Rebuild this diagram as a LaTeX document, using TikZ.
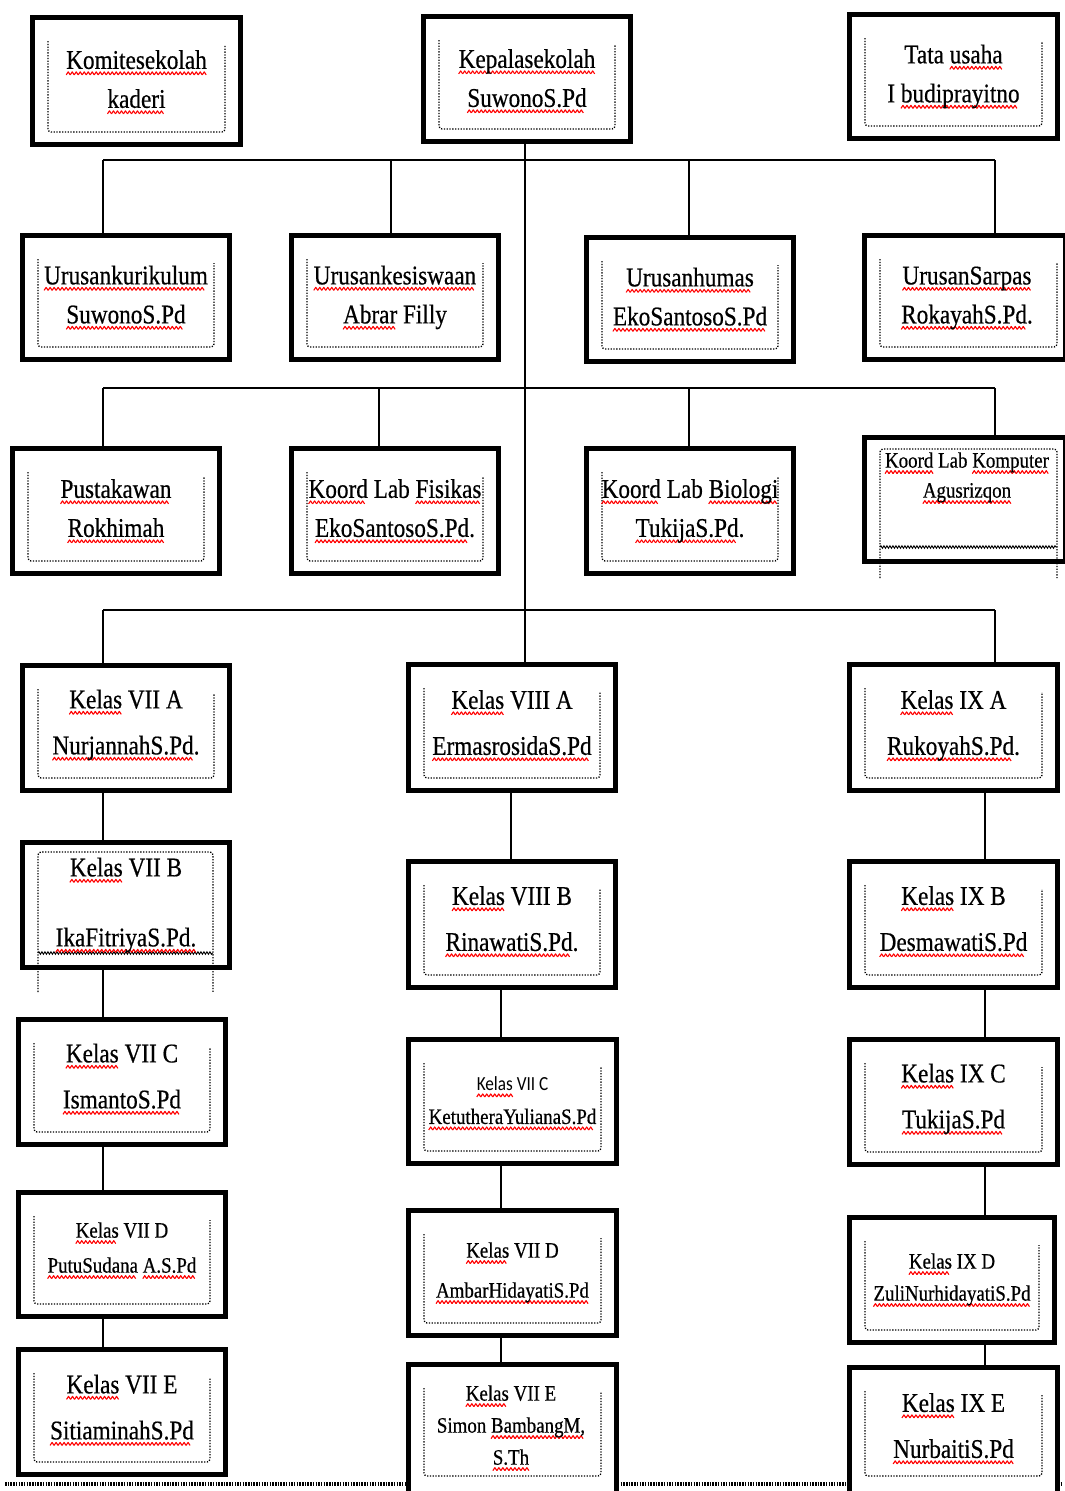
\documentclass[tikz,border=0pt]{standalone}
\usepackage{fontspec}
\setmainfont{Liberation Serif}[FakeStretch=0.86,FakeBold=0.5]
\newfontfamily\smsans{Carlito}[FakeStretch=0.86]
\usetikzlibrary{decorations.pathmorphing,backgrounds}
\newsavebox\wavebox
\sbox\wavebox{\tikz{\useasboundingbox (0,0) rectangle (4pt,3pt); \draw[red,line width=1.1pt,line join=round] (0,0) -- (2pt,3pt) -- (4pt,0);}}
\newcommand\rw[1]{\setbox0\hbox{#1}\rlap{\raisebox{-6pt}{\hbox to \wd0{\leaders\copy\wavebox\hfill}}}#1}
\newcommand\mainf{\fontsize{27}{39}\selectfont}
\newcommand\kelf{\fontsize{27}{46}\selectfont}
\tikzset{
  obox/.style={draw, line width=5.5pt, fill=white, inner sep=0pt},
  conn/.style={line width=1.8pt},
  dotl/.style={line width=1.3pt, dash pattern=on 1.3pt off 1.5pt, rounded corners=3pt},
  bwave/.style={line width=0.9pt, decorate, decoration={snake, segment length=3pt, amplitude=1.3pt}},
  txt/.style={align=center, inner sep=0pt},
}
% name, x1, y1, x2, y2
\newcommand\ob[5]{%
  \node[obox, minimum width={(#4)-(#2)-5}, minimum height={(#5)-(#3)-5}] (#1) at ({((#2)+(#4))/2},{((#3)+(#5))/2}) {};
}
\newcommand\inr[4]{%
  \draw[dotl] ({(#1)+18},{(#2)+26}) -- ({(#1)+18},{(#4)-15}) -- ({(#3)-18},{(#4)-15}) -- ({(#3)-18},{(#2)+30});
}
\begin{document}
\begin{tikzpicture}[x=1pt,y=-1pt]
\useasboundingbox (0,0) rectangle (1065,1491);

% ---- boxes
\ob{komite}{30}{15}{243}{147}   \inr{30}{15}{243}{147}
\ob{kepala}{421}{14}{633}{144}  \inr{421}{14}{633}{144}
\ob{tata}{847}{12}{1060}{141}   \inr{847}{12}{1060}{141}
\ob{kur}{20}{233}{232}{362}     \inr{20}{233}{232}{362}
\ob{kes}{289}{233}{501}{362}    \inr{289}{233}{501}{362}
\ob{hum}{584}{235}{796}{364}    \inr{584}{235}{796}{364}
\ob{sar}{862}{233}{1068}{362}   \inr{862}{233}{1075}{362}
\ob{pus}{10}{446}{222}{576}     \inr{10}{446}{222}{576}
\ob{fis}{289}{446}{501}{576}    \inr{289}{446}{501}{576}
\ob{bio}{584}{446}{796}{576}    \inr{584}{446}{796}{576}
\ob{kom}{862}{435}{1068}{564}
\ob{asev}{20}{663}{232}{793}    \inr{20}{663}{232}{793}
\ob{bsev}{20}{840}{232}{970}
\ob{csev}{16}{1017}{228}{1147}  \inr{16}{1017}{228}{1147}
\ob{dsev}{16}{1190}{228}{1319}  \inr{16}{1190}{228}{1319}
\ob{esev}{16}{1347}{228}{1477}  \inr{16}{1347}{228}{1477}
\ob{aeig}{406}{662}{618}{793}   \inr{406}{662}{618}{793}
\ob{beig}{406}{859}{618}{990}   \inr{406}{859}{618}{990}
\ob{ceig}{406}{1037}{619}{1166} \inr{406}{1037}{619}{1166}
\ob{deig}{406}{1208}{619}{1338} \inr{406}{1208}{619}{1338}
\ob{eeig}{406}{1362}{619}{1496} \inr{406}{1362}{619}{1491}
\ob{anin}{847}{662}{1060}{793}  \inr{847}{662}{1060}{793}
\ob{bnin}{847}{859}{1060}{990}  \inr{847}{859}{1060}{990}
\ob{cnin}{847}{1037}{1060}{1167} \inr{847}{1037}{1060}{1167}
\ob{dnin}{847}{1215}{1057}{1345} \inr{847}{1215}{1057}{1345}
\ob{enin}{847}{1365}{1060}{1496} \inr{847}{1365}{1060}{1491}

% special inner frames
\draw[dotl] (880,578) -- (880,449) -- (1057,449) -- (1057,578);
\draw[bwave] (880,547) -- (1057,547);
\draw[dotl] (38,992) -- (38,852) -- (213,852) -- (213,992);
\draw[bwave] (38,953) -- (213,953);

% ---- texts
\node[txt,font=\mainf] (komiteT) at ([yshift=-1]komite.center) {\rw{Komitesekolah}\\\rw{kaderi}};
\node[txt,font=\mainf] (kepalaT) at ([yshift=-2]kepala.center) {\rw{Kepalasekolah}\\\rw{SuwonoS.Pd}};
\node[txt,font=\mainf] (tataT) at (tata.center) {Tata \rw{usaha}\\I \rw{budiprayitno}};
\node[txt,font=\mainf] (kurT) at (kur.center) {\rw{Urusankurikulum}\\\rw{SuwonoS.Pd}};
\node[txt,font=\mainf] (kesT) at (kes.center) {\rw{Urusankesiswaan}\\\rw{Abrar} Filly};
\node[txt,font=\mainf] (humT) at (hum.center) {\rw{Urusanhumas}\\\rw{EkoSantosoS.Pd}};
\node[txt,font=\mainf] (sarT) at (967,298) {\rw{UrusanSarpas}\\\rw{RokayahS.Pd}.};
\node[txt,font=\mainf] (pusT) at (pus.center) {\rw{Pustakawan}\\\rw{Rokhimah}};
\node[txt,font=\mainf] (fisT) at (fis.center) {\rw{Koord} Lab \rw{Fisikas}\\\rw{EkoSantosoS.Pd}.};
\node[txt,font=\mainf] (bioT) at (bio.center) {\rw{Koord} Lab \rw{Biologi}\\\rw{TukijaS.Pd}.};
\node[txt,font=\fontsize{22}{30}\selectfont] (komT) at (967,478) {\rw{Koord} Lab \rw{Komputer}\\\rw{Agusrizqon}};
\node[txt,font=\kelf] (asevT) at ([yshift=3]asev.center) {\rw{Kelas} VII A\\\rw{NurjannahS.Pd}.};
\node[txt,font=\fontsize{27}{35}\selectfont] (bsevT) at (bsev.center) {\rw{Kelas} VII B\\[35pt]\rw{IkaFitriyaS.Pd.}};
\node[txt,font=\kelf] (csevT) at ([yshift=3]csev.center) {\rw{Kelas} VII C\\\rw{IsmantoS.Pd}};
\node[txt,font=\fontsize{22}{35}\selectfont] (dsevT) at ([yshift=4]dsev.center) {\rw{Kelas} VII D\\\rw{PutuSudana} \rw{A.S.Pd}};
\node[txt,font=\kelf] (esevT) at ([yshift=2]esev.center) {\rw{Kelas} VII E\\\rw{SitiaminahS.Pd}};
\node[txt,font=\kelf] (aeigT) at ([yshift=2]aeig.center) {\rw{Kelas} VIII A\\\rw{ErmasrosidaS.Pd}};
\node[txt,font=\kelf] (beigT) at ([yshift=3]beig.center) {\rw{Kelas} VIII B\\\rw{RinawatiS.Pd}.};
\node[txt,font=\fontsize{22}{33}\selectfont] (ceigT) at ([yshift=-2]ceig.center) {{\smsans\fontsize{20}{20}\selectfont\rw{Kelas} VII C}\\\rw{KetutheraYulianaS.Pd}};
\node[txt,font=\fontsize{22}{40}\selectfont] (deigT) at (deig.center) {\rw{Kelas} VII D\\\rw{AmbarHidayatiS.Pd}};
\node[txt,font=\fontsize{22}{32}\selectfont] (eeigT) at (511,1428) {\rw{Kelas} VII E\\Simon \rw{BambangM,}\\\rw{S.Th}};
\node[txt,font=\kelf] (aninT) at ([yshift=2]anin.center) {\rw{Kelas} IX A\\\rw{RukoyahS.Pd}.};
\node[txt,font=\kelf] (bninT) at ([yshift=3]bnin.center) {\rw{Kelas} IX B\\\rw{DesmawatiS.Pd}};
\node[txt,font=\kelf] (cninT) at ([yshift=3]cnin.center) {\rw{Kelas} IX C\\\rw{TukijaS.Pd}};
\node[txt,font=\fontsize{22}{32}\selectfont] (dninT) at (dnin.center) {\rw{Kelas} IX D\\\rw{ZuliNurhidayatiS.Pd}};
\node[txt,font=\kelf] (eninT) at ([yshift=2]enin.center) {\rw{Kelas} IX E\\\rw{NurbaitiS.Pd}};

% ---- connectors (behind boxes)
\begin{pgfonlayer}{background}
\fill[white] (0,0) rectangle (1065,1491);
\draw[line width=3.5pt, dash pattern=on 1.5pt off 1.2pt] (5,1484) -- (1062,1484);
\coordinate (tr) at (525,160);
\coordinate (bal) at (103,160); \coordinate (bar) at (995,160);
\coordinate (bbl) at (103,388); \coordinate (bbr) at (995,388);
\coordinate (bcl) at (103,610); \coordinate (bcr) at (995,610);
\coordinate (dkes) at (391,160); \coordinate (dhum) at (689,160);
\coordinate (dfis) at (379,388); \coordinate (dbio) at (689,388);
\coordinate (cone) at (103,0); \coordinate (ctwoa) at (511,0);
\coordinate (ctwo) at (501,0); \coordinate (cthree) at (985,0);
\draw[conn] (kepala.south -| tr) -- (aeig.north -| tr);
\draw[conn] (bal) -- (bar);
\draw[conn] (bbl) -- (bbr);
\draw[conn] (bcl) -- (bcr);
\draw[conn] (bal) -- (kur.north -| bal);
\draw[conn] (dkes) -- (kes.north -| dkes);
\draw[conn] (dhum) -- (hum.north -| dhum);
\draw[conn] (bar) -- (sar.north -| bar);
\draw[conn] (bbl) -- (pus.north -| bbl);
\draw[conn] (dfis) -- (fis.north -| dfis);
\draw[conn] (dbio) -- (bio.north -| dbio);
\draw[conn] (bbr) -- (kom.north -| bbr);
\draw[conn] (bcl) -- (asev.north -| bcl);
\draw[conn] (bcr) -- (anin.north -| bcr);
\draw[conn] (asev.south -| cone) -- (bsev.north -| cone);
\draw[conn] (bsev.south -| cone) -- (csev.north -| cone);
\draw[conn] (csev.south -| cone) -- (dsev.north -| cone);
\draw[conn] (dsev.south -| cone) -- (esev.north -| cone);
\draw[conn] (aeig.south -| ctwoa) -- (beig.north -| ctwoa);
\draw[conn] (beig.south -| ctwo) -- (ceig.north -| ctwo);
\draw[conn] (ceig.south -| ctwo) -- (deig.north -| ctwo);
\draw[conn] (deig.south -| ctwo) -- (eeig.north -| ctwo);
\draw[conn] (anin.south -| cthree) -- (bnin.north -| cthree);
\draw[conn] (bnin.south -| cthree) -- (cnin.north -| cthree);
\draw[conn] (cnin.south -| cthree) -- (dnin.north -| cthree);
\draw[conn] (dnin.south -| cthree) -- (enin.north -| cthree);
\end{pgfonlayer}
\end{tikzpicture}
\end{document}
